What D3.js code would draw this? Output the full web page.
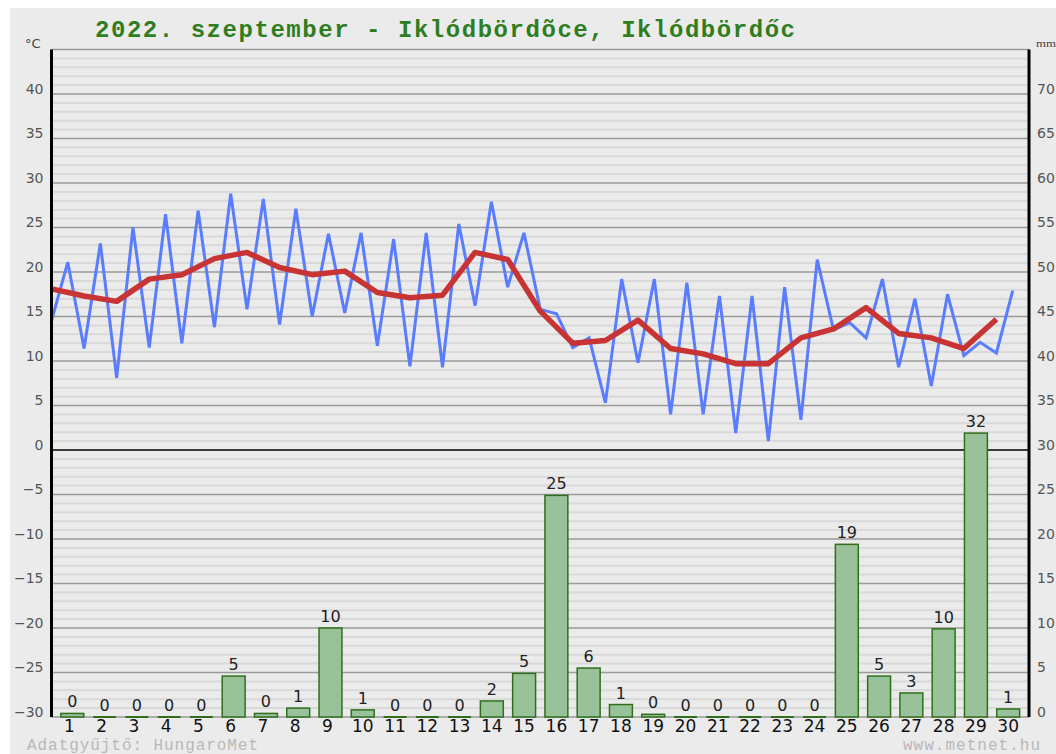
<!DOCTYPE html>
<html>
<head>
<meta charset="utf-8">
<script src="https://cdn.jsdelivr.net/npm/d3@7"></script>
<style>
  body { margin: 0; background: #fff; }
  svg { display: block; }
</style>
</head>
<body>
<div id="container"></div>
<script>
// daily values
const days = d3.range(1, 31);
const tMin = [14.5, 11.4, 8.1, 11.5, 12.0, 13.8, 15.8, 14.1, 15.0, 15.4, 11.7, 9.4, 9.3, 16.2, 18.3, 15.8, 11.5, 5.3, 9.8, 4.0, 4.0, 1.9, 1.0, 3.4, 13.5, 12.6, 9.3, 7.2, 10.6, 10.9];
const tMax = [21.1, 23.2, 25.0, 26.5, 26.9, 28.8, 28.2, 27.1, 24.3, 24.4, 23.7, 24.4, 25.4, 27.9, 24.4, 15.3, 12.6, 19.2, 19.2, 18.8, 17.3, 17.3, 18.3, 21.4, 14.3, 19.2, 17.0, 17.5, 12.1, 17.9];
const tMean = [18.1, 17.3, 16.7, 19.2, 19.7, 21.5, 22.2, 20.5, 19.7, 20.1, 17.7, 17.1, 17.4, 22.2, 21.4, 15.6, 12.0, 12.3, 14.6, 11.4, 10.8, 9.7, 9.7, 12.6, 13.6, 16.0, 13.1, 12.6, 11.4, 14.7];
const precip = [0.4, 0, 0, 0, 0, 4.6, 0.4, 1.0, 10.0, 0.8, 0, 0, 0, 1.8, 4.9, 24.9, 5.5, 1.4, 0.3, 0, 0, 0, 0, 0, 19.4, 4.6, 2.7, 9.9, 31.9, 0.9];
const precipLabels = ['0','0','0','0','0','5','0','1','10','1','0','0','0','2','5','25','6','1','0','0','0','0','0','0','19','5','3','10','32','1'];
const tempTicks = [-30, -25, -20, -15, -10, -5, 0, 5, 10, 15, 20, 25, 30, 35, 40];
const mmTicks = [0, 5, 10, 15, 20, 25, 30, 35, 40, 45, 50, 55, 60, 65, 70];

const w = 1056, h = 754;
const left = 51.5, right = 1029;
const tempScale = d3.scaleLinear().domain([-30, 45]).range([717, 49.5]);
const mmScale = d3.scaleLinear().domain([0, 75]).range([717, 49.5]);
const xBand = d3.scaleBand().domain(days).range([left, right]).padding(0.29);
const xTime = d3.scaleLinear().domain([0, 30]).range([left, right]);

const svg = d3.select('#container').append('svg')
  .attr('width', w).attr('height', h);

// panel background
svg.append('rect').attr('x', 10).attr('y', 8).attr('width', w - 10).attr('height', h - 8)
  .attr('fill', '#ebebeb');

// minor gridlines, every degree
const minor = d3.range(-29, 45).filter(v => v % 5 !== 0);
svg.append('g').selectAll('line').data(minor).enter().append('line')
  .attr('x1', left).attr('x2', right)
  .attr('y1', d => tempScale(d)).attr('y2', d => tempScale(d))
  .attr('stroke', '#d9d9d9').attr('stroke-width', 2);

// major gridlines
svg.append('g').selectAll('line').data(tempTicks.concat([45])).enter().append('line')
  .attr('x1', left).attr('x2', right)
  .attr('y1', d => tempScale(d)).attr('y2', d => tempScale(d))
  .attr('stroke', d => d === 0 ? '#000' : '#9a9a9a')
  .attr('stroke-width', d => d === 0 ? 1.6 : 1.4);

// precipitation bars
const bars = svg.append('g');
bars.selectAll('rect').data(days).enter().append('rect')
  .attr('x', d => xBand(d))
  .attr('width', xBand.bandwidth())
  .attr('y', (d, i) => mmScale(precip[i]))
  .attr('height', (d, i) => mmScale(0) - mmScale(precip[i]))
  .attr('fill', '#99c29b')
  .attr('stroke', '#2f6f1c')
  .attr('stroke-width', 1.5);
bars.selectAll('line').data(days.filter((d, i) => precip[i] === 0)).enter().append('line')
  .attr('x1', d => xBand(d)).attr('x2', d => xBand(d) + xBand.bandwidth())
  .attr('y1', mmScale(0)).attr('y2', mmScale(0))
  .attr('stroke', '#2f6f1c').attr('stroke-width', 2);
bars.selectAll('text').data(days).enter().append('text')
  .attr('x', d => xBand(d) + xBand.bandwidth() / 2)
  .attr('y', (d, i) => mmScale(precip[i]) - 6)
  .attr('text-anchor', 'middle')
  .attr('font-family', 'DejaVu Sans, sans-serif')
  .attr('font-size', 16)
  .attr('fill', '#222')
  .text((d, i) => precipLabels[i]);

// min/max temperature: min at start of day, max at midday
const minMax = [];
days.forEach((d, i) => {
  minMax.push([d - 1, tMin[i]]);
  minMax.push([d - 0.5, tMax[i]]);
});
const line = d3.line().x(d => xTime(d[0])).y(d => tempScale(d[1]));
svg.append('path').datum(minMax)
  .attr('d', line)
  .attr('fill', 'none')
  .attr('stroke', '#5a7dff')
  .attr('stroke-width', 3)
  .attr('stroke-linejoin', 'miter');

svg.append('path').datum(days.map((d, i) => [d - 1, tMean[i]]))
  .attr('d', line)
  .attr('fill', 'none')
  .attr('stroke', '#c83333')
  .attr('stroke-width', 5.5)
  .attr('stroke-linejoin', 'round');

// frame lines
svg.append('line').attr('x1', left).attr('x2', left)
  .attr('y1', tempScale(45)).attr('y2', tempScale(-30))
  .attr('stroke', '#000').attr('stroke-width', 3);
svg.append('line').attr('x1', right).attr('x2', right)
  .attr('y1', tempScale(45)).attr('y2', tempScale(-30))
  .attr('stroke', '#000').attr('stroke-width', 3);

// left axis (°C)
const leftAxis = d3.axisLeft(tempScale).tickValues(tempTicks).tickSize(0).tickPadding(8);
const gl = svg.append('g').attr('transform', 'translate(' + left + ',0)').call(leftAxis);
gl.select('.domain').remove();
gl.selectAll('text')
  .attr('font-family', 'DejaVu Sans, sans-serif').attr('font-size', 14)
  .attr('fill', '#555').attr('dy', '-0.05em');

// right axis (mm)
const rightAxis = d3.axisRight(mmScale).tickValues(mmTicks).tickSize(0).tickPadding(8);
const gr = svg.append('g').attr('transform', 'translate(' + right + ',0)').call(rightAxis);
gr.select('.domain').remove();
gr.selectAll('text')
  .attr('font-family', 'DejaVu Sans, sans-serif').attr('font-size', 14)
  .attr('fill', '#555').attr('dy', '-0.05em');

// day labels
const xAxis = d3.axisBottom(xBand).tickSize(0).tickPadding(3);
const gx = svg.append('g').attr('transform', 'translate(0,' + tempScale(-30) + ')').call(xAxis);
gx.select('.domain').remove();
gx.selectAll('text')
  .attr('font-family', 'DejaVu Sans, sans-serif').attr('font-size', 17)
  .attr('fill', '#111')
  .attr('dx', d => d < 10 ? -3 : 0);

// unit labels
svg.append('text').attr('x', 25).attr('y', 48)
  .attr('font-family', 'DejaVu Sans, sans-serif').attr('font-size', 13)
  .attr('fill', '#444').text('°C');
svg.append('text').attr('x', 1036).attr('y', 47)
  .attr('font-family', 'Liberation Serif, serif').attr('font-size', 11)
  .attr('fill', '#444').attr('textLength', 20).attr('lengthAdjust', 'spacingAndGlyphs')
  .text('mm');

// title
svg.append('text').attr('x', 95).attr('y', 37)
  .attr('font-family', 'Liberation Mono, monospace').attr('font-size', 24)
  .attr('font-weight', 'bold').attr('fill', '#2e7d1f')
  .attr('textLength', 700).attr('lengthAdjust', 'spacing')
  .text('2022. szeptember - Iklódbördõce, Iklódbördőc');

// footer
svg.append('text').attr('x', 27).attr('y', 750)
  .attr('font-family', 'Liberation Mono, monospace').attr('font-size', 16)
  .attr('fill', '#b8b8b8').attr('textLength', 231).attr('lengthAdjust', 'spacing')
  .text('Adatgyűjtő: HungaroMet');
svg.append('text').attr('x', 903).attr('y', 750)
  .attr('font-family', 'Liberation Mono, monospace').attr('font-size', 16)
  .attr('fill', '#b8b8b8').attr('textLength', 137).attr('lengthAdjust', 'spacing')
  .text('www.metnet.hu');
</script>
</body>
</html>
